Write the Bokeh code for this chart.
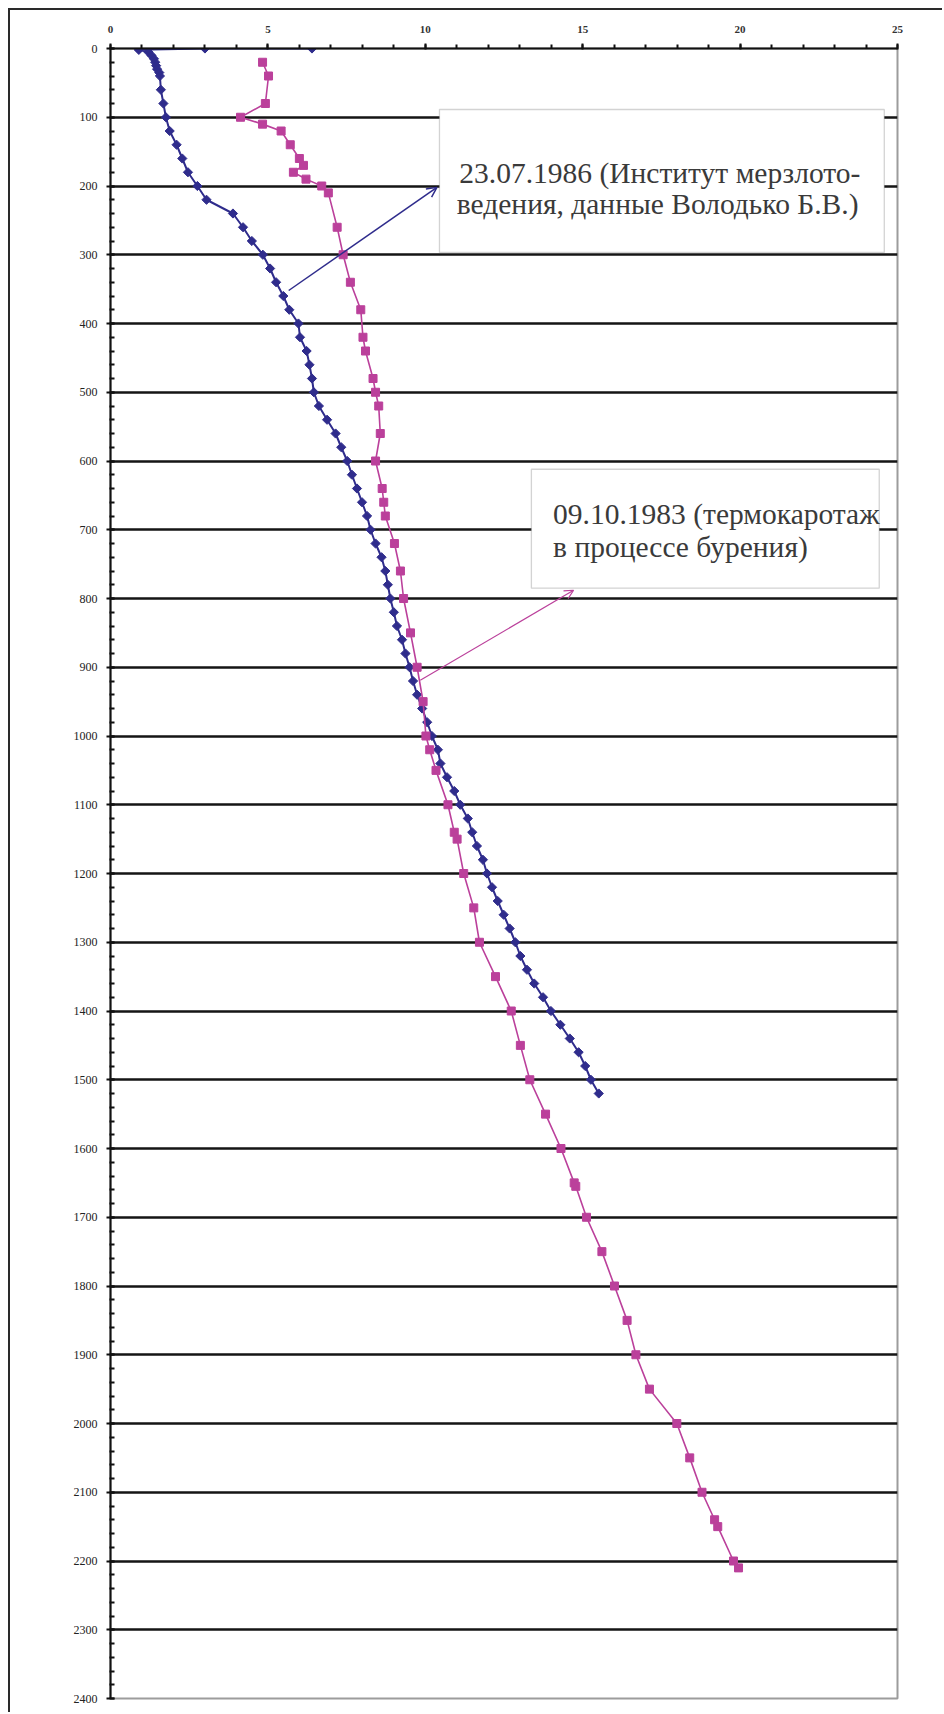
from bokeh.plotting import figure
from bokeh.models import (Range1d, SingleIntervalTicker, FixedTicker, BoxAnnotation,
                          Label, Arrow, OpenHead)
from bokeh.embed import file_html
from bokeh.resources import INLINE

# ---- data -------------------------------------------------------------
# 23.07.1986 profile (blue, diamonds)
blue_depth = [0, 0, 2, 5, 10, 15, 20, 25, 30, 35, 40, 60, 80, 100, 120, 140, 160, 180,
              200, 220, 240, 260, 280, 300, 320, 340, 360, 380, 400, 420, 440, 460,
              480, 500, 520, 540, 560, 580, 600, 620, 640, 660, 680, 700, 720, 740,
              760, 780, 800, 820, 840, 860, 880, 900, 920, 940, 960, 980, 1000, 1020,
              1040, 1060, 1080, 1100, 1120, 1140, 1160, 1180, 1200, 1220, 1240, 1260,
              1280, 1300, 1320, 1340, 1360, 1380, 1400, 1420, 1440, 1460, 1480, 1500,
              1520]
blue_temp = [6.4, 3.0, 0.9, 1.2, 1.3, 1.38, 1.42, 1.45, 1.48, 1.55, 1.57, 1.6, 1.68, 1.76,
             1.88, 2.1, 2.28, 2.46, 2.76, 3.05, 3.89, 4.21, 4.49, 4.84, 5.07, 5.26, 5.49,
             5.68, 5.97, 6.02, 6.23, 6.32, 6.40, 6.46, 6.62, 6.88, 7.15, 7.33, 7.52, 7.67,
             7.83, 7.99, 8.15, 8.26, 8.42, 8.61, 8.73, 8.81, 8.89, 9.0, 9.1, 9.26, 9.37,
             9.5, 9.61, 9.74, 9.9, 10.06, 10.21, 10.4, 10.48, 10.69, 10.92, 11.11, 11.35,
             11.49, 11.64, 11.83, 11.96, 12.12, 12.3, 12.49, 12.68, 12.86, 13.02, 13.23,
             13.46, 13.74, 13.99, 14.29, 14.59, 14.87, 15.08, 15.26, 15.51]

# 09.10.1983 profile (pink, squares)
pink_depth = [20, 40, 80, 100, 110, 120, 140, 160, 170, 180, 190, 200, 210, 260, 300, 340,
              380, 420, 440, 480, 500, 520, 560, 600, 640, 660, 680, 720, 760, 800, 850,
              900, 950, 1000, 1020, 1050, 1100, 1140, 1150, 1200, 1250, 1300, 1350, 1400,
              1450, 1500, 1550, 1600, 1650, 1655, 1700, 1750, 1800, 1850, 1900, 1950,
              2000, 2050, 2100, 2140, 2150, 2200, 2210]
pink_temp = [4.83, 5.02, 4.92, 4.13, 4.83, 5.42, 5.71, 6.0, 6.13, 5.81, 6.21, 6.71, 6.92,
             7.2, 7.39, 7.62, 7.95, 8.02, 8.1, 8.34, 8.42, 8.52, 8.57, 8.42, 8.63, 8.68,
             8.73, 9.02, 9.21, 9.31, 9.53, 9.74, 9.93, 10.02, 10.14, 10.34, 10.72, 10.92,
             11.01, 11.22, 11.54, 11.72, 12.23, 12.73, 13.02, 13.32, 13.82, 14.31, 14.73,
             14.78, 15.12, 15.61, 16.01, 16.41, 16.69, 17.12, 17.99, 18.4, 18.79, 19.19,
             19.29, 19.79, 19.95]

x_tick_step = 5
y_tick_step = 100
label_1986 = ["23.07.1986 (Институт мерзлото-", "ведения, данные Володько Б.В.)"]
label_1983 = ["09.10.1983 (термокаротаж", "в процессе бурения)"]

BLUE = "#2f2c8c"
PINK = "#bb409b"
FONT = "Liberation Serif"

# ---- figure -----------------------------------------------------------
p = figure(width=934, height=1704, output_backend="svg", toolbar_location=None,
           x_range=Range1d(0, 25), y_range=Range1d(2400, 0), x_axis_location="above",
           min_border_left=100, min_border_right=47, min_border_top=38,
           min_border_bottom=16, background_fill_color="white",
           border_fill_color="white")
p.styles = {"margin-left": "8px", "margin-top": "8px",
            "border-left": "2px solid #2a2a2a", "border-top": "2px solid #2a2a2a"}

xa = p.xaxis[0]
xa.ticker = SingleIntervalTicker(interval=x_tick_step, num_minor_ticks=5)
xa.axis_line_width = 2
xa.axis_line_color = "#111111"
xa.major_tick_line_color = "#111111"
xa.minor_tick_line_color = "#111111"
xa.major_tick_line_width = 2
xa.minor_tick_line_width = 2
xa.major_tick_out = 5
xa.major_tick_in = 1
xa.minor_tick_out = 4
xa.minor_tick_in = 0
xa.major_label_text_font = FONT
xa.major_label_text_font_size = "11px"
xa.major_label_text_font_style = "bold"
xa.major_label_text_color = "#333333"
xa.major_label_standoff = 11

ya = p.yaxis[0]
ya.ticker = SingleIntervalTicker(interval=y_tick_step, num_minor_ticks=5)
ya.axis_line_width = 2
ya.axis_line_color = "#111111"
ya.major_tick_line_color = "#111111"
ya.minor_tick_line_color = "#111111"
ya.major_tick_line_width = 2
ya.minor_tick_line_width = 2
ya.major_tick_out = 4
ya.major_tick_in = 4
ya.minor_tick_out = 1
ya.minor_tick_in = 4
ya.major_label_text_font = FONT
ya.major_label_text_font_size = "12px"
ya.major_label_text_color = "#222222"
ya.major_label_standoff = 9

p.xgrid.visible = False
p.ygrid.ticker = FixedTicker(ticks=list(range(100, 2400, 100)))
p.ygrid.grid_line_color = "#151515"
p.ygrid.grid_line_width = 2.5

p.outline_line_color = "#9c9c9c"
p.outline_line_width = 2

# ---- series -----------------------------------------------------------
p.line(blue_temp, blue_depth, line_color=BLUE, line_width=2)
p.scatter(blue_temp, blue_depth, marker="square", angle=0.785398, size=6.5,
          fill_color=BLUE, line_color=BLUE)
p.line(pink_temp, pink_depth, line_color=PINK, line_width=1.6)
p.scatter(pink_temp, pink_depth, marker="square", size=8, fill_color=PINK,
          line_color=PINK)

# ---- annotations ------------------------------------------------------
p.add_layout(BoxAnnotation(left=10.45, right=24.58, top=88.7, bottom=296.7,
                           fill_color="white", fill_alpha=1.0,
                           line_color="#6e6e6e", line_width=1.3))
p.add_layout(BoxAnnotation(left=13.37, right=24.42, top=612, bottom=785,
                           fill_color="white", fill_alpha=1.0,
                           line_color="#6e6e6e", line_width=1.3))

p.add_layout(Arrow(end=OpenHead(size=10, line_color=BLUE, line_width=1.5),
                   x_start=5.66, y_start=352, x_end=10.37, y_end=202,
                   line_color=BLUE, line_width=1.5))
p.add_layout(Arrow(end=OpenHead(size=9, line_color=PINK, line_width=1.2),
                   x_start=9.84, y_start=919, x_end=14.71, y_end=788,
                   line_color=PINK, line_width=1.2))

for txt, xx, yy in [(label_1986[0], 11.08, 181.8), (label_1986[1], 11.0, 226.5),
                    (label_1983[0], 14.06, 677.8), (label_1983[1], 14.06, 725.4)]:
    p.add_layout(Label(x=xx, y=yy, text=txt, text_font=FONT, text_font_size="29.5px",
                       text_color="#3a3a3a", text_baseline="alphabetic",
                       text_align="left"))

open("out.html", "w").write(file_html(p, INLINE))
